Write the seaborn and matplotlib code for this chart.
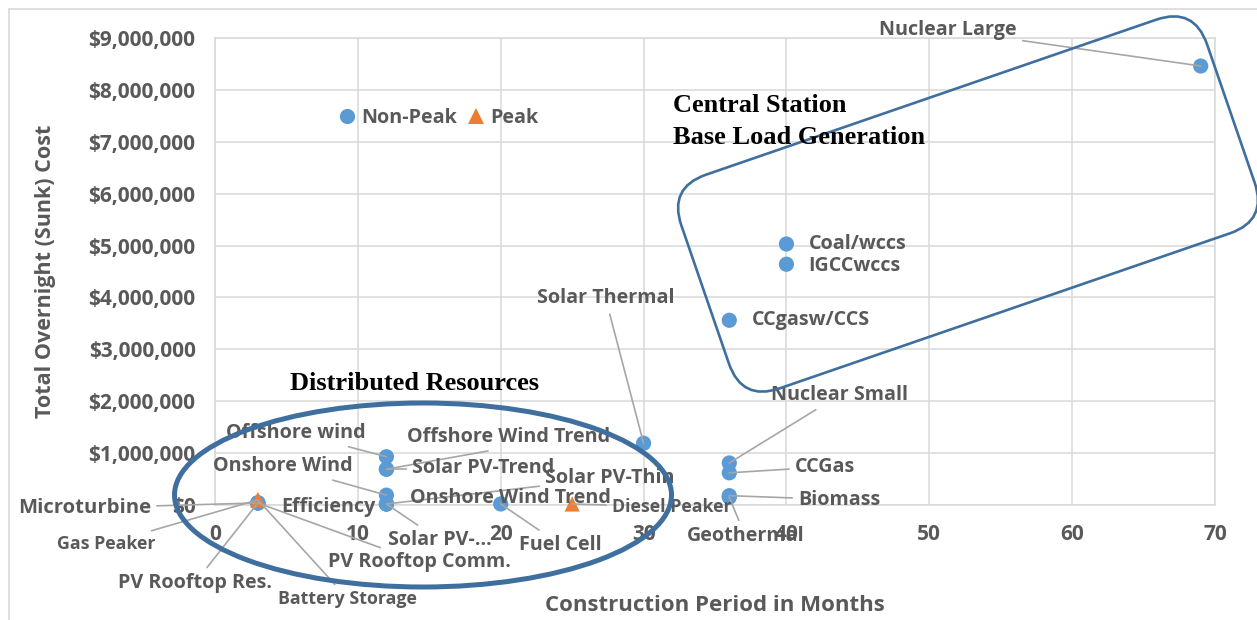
import numpy as np
import pandas as pd
import matplotlib
matplotlib.use('Agg')
import matplotlib.pyplot as plt
import matplotlib.transforms as mtransforms
from matplotlib.patches import Ellipse, FancyBboxPatch
from matplotlib.ticker import FuncFormatter
import seaborn as sns

# data
names = ["Nuclear Large", "Coal/wccs", "IGCCwccs", "CCgasw/CCS", "Solar Thermal",
         "Nuclear Small", "CCGas", "Biomass", "Geothermal", "Diesel Peaker",
         "Fuel Cell", "Solar PV-Thin", "Onshore Wind Trend", "Solar PV-\u2026",
         "Onshore Wind", "Offshore wind", "Offshore Wind Trend", "Solar PV-Trend",
         "Efficiency", "Microturbine", "Gas Peaker", "PV Rooftop Res.",
         "PV Rooftop Comm.", "Battery Storage"]
months = [69, 40, 40, 36, 30, 36, 36, 36, 36, 25, 20, 12, 12, 12, 12, 12, 12, 12,
          3, 3, 3, 3, 3, 3]
costs = [8460000, 5030000, 4640000, 3560000, 1190000, 810000, 620000, 180000,
         150000, 20000, 20000, 20000, 20000, 20000, 190000, 930000, 690000, 690000,
         40000, 40000, 100000, 40000, 40000, 100000]
kinds = ["Non-Peak"] * 24
for i in (9, 20, 23):
    kinds[i] = "Peak"

x_ticks = [0, 10, 20, 30, 40, 50, 60, 70]
y_ticks = [0, 1e6, 2e6, 3e6, 4e6, 5e6, 6e6, 7e6, 8e6, 9e6]

# label placement: offset in pixels from the point (y down), align, size, leader line
LB, SM = 14.2, 12.8
label_pos = {
    "Nuclear Large": (-184, -36, 'right', LB, True),
    "Coal/wccs": (22, 0, 'left', LB, False),
    "IGCCwccs": (22, 2, 'left', LB, False),
    "CCgasw/CCS": (23, 0, 'left', LB, False),
    "Solar Thermal": (-38, -145, 'center', LB, True),
    "Nuclear Small": (42, -68, 'left', LB, True),
    "CCGas": (66, -6, 'left', LB, True),
    "Biomass": (69, 4, 'left', LB, True),
    "Geothermal": (16, 39, 'center', LB, True),
    "Diesel Peaker": (40, 3, 'left', SM, True),
    "Fuel Cell": (60, 41, 'center', LB, True),
    "Solar PV-Thin": (159, -26, 'left', LB, True),
    "Onshore Wind Trend": (24, -6, 'left', LB, False),
    "Solar PV-\u2026": (53, 36, 'center', LB, True),
    "Onshore Wind": (-34, -29, 'right', LB, True),
    "Offshore wind": (-21, -24, 'right', LB, True),
    "Offshore Wind Trend": (21, -32, 'left', LB, True),
    "Solar PV-Trend": (26, -1, 'left', LB, True),
    "Efficiency": (23, 4, 'left', LB, False),
    "Microturbine": (-107, 5, 'right', 14.6, True),
    "Gas Peaker": (-102, 44, 'right', SM, True),
    "PV Rooftop Res.": (-63, 80, 'center', LB, True),
    "PV Rooftop Comm.": (70, 59, 'left', LB, True),
    "Battery Storage": (90, 99, 'center', SM, True),
}
# leaders that leave the text from the bottom centre
bottom_leaders = {"Offshore Wind Trend"}

GRAY = '#595959'
GRID = '#D9D9D9'

sns.set_theme(style='white')
plt.rcParams['font.family'] = ['Open Sans', 'DejaVu Sans']
plt.rcParams['font.weight'] = 'bold'

W, H = 1257, 620
fig = plt.figure(figsize=(W / 100, H / 100), dpi=100)
ax = fig.add_axes([215 / W, 1 - 505 / H, 1000 / W, 467 / H])

df = pd.DataFrame({'name': names, 'months': months, 'cost': costs, 'type': kinds})
df = df.sort_values('type', kind='stable')

sns.scatterplot(data=df, x='months', y='cost', hue='type', style='type',
                hue_order=['Non-Peak', 'Peak'], style_order=['Non-Peak', 'Peak'],
                markers={'Non-Peak': 'o', 'Peak': '^'},
                palette={'Non-Peak': '#5B9BD5', 'Peak': '#ED7D31'},
                s=120, linewidth=0, ax=ax, zorder=3, clip_on=False)

ax.set_xlim(0, 70)
ax.set_ylim(0, 9e6)
ax.set_xticks(x_ticks)
ax.set_yticks(y_ticks)
ax.yaxis.set_major_formatter(FuncFormatter(lambda v, p: f"${v:,.0f}"))
ax.grid(True, color=GRID, lw=1.1)
ax.set_axisbelow(True)
for sp in ax.spines.values():
    sp.set_color(GRID)
    sp.set_linewidth(1.1)
ax.tick_params(length=0, labelsize=15, labelcolor=GRAY)
ax.tick_params(axis='x', pad=14)
ax.tick_params(axis='y', pad=14)
ax.set_xlabel('Construction Period in Months', fontsize=16, color=GRAY,
              fontweight='bold', labelpad=36)
ax.set_ylabel('Total Overnight (Sunk) Cost', fontsize=15.5, color=GRAY,
              fontweight='bold', labelpad=23)

sns.move_legend(ax, 'center left', bbox_to_anchor=(0.116, 0.829), ncol=2,
                frameon=False, title=None, fontsize=14.2, handlelength=0.8,
                handletextpad=0.32, columnspacing=0.57, borderaxespad=0)
for t in ax.get_legend().get_texts():
    t.set_color(GRAY)
    t.set_fontweight('bold')

# data labels with leader lines
for _, row in df.iterrows():
    dx, dy, ha, size, leader = label_pos[row['name']]
    props = None
    if leader:
        props = dict(arrowstyle='-', color='#A6A6A6', lw=1.2, shrinkA=2, shrinkB=0)
        if row['name'] in bottom_leaders:
            props['relpos'] = (0.5, 0.0)
    ax.annotate(row['name'], (row['months'], row['cost']), xytext=(dx, -dy),
                textcoords='offset pixels', ha=ha, va='center', fontsize=size,
                color=GRAY, fontweight='bold', arrowprops=props,
                annotation_clip=False, zorder=4)

# overlay in pixel coordinates for the hand-drawn shapes
ov = fig.add_axes([0, 0, 1, 1], zorder=5)
ov.set_xlim(0, W)
ov.set_ylim(H, 0)
ov.axis('off')
ov.patch.set_alpha(0)

ov.plot([9, 9], [H, 9], color=GRID, lw=1.2)
ov.plot([9, W], [9, 9], color=GRID, lw=1.2)

SHAPE = '#3E6F9E'
ov.add_patch(Ellipse((423, 495), 497, 184, fill=False, ec=SHAPE, lw=3.6))

cx, cy, a, b, r = 968, 204, 476, 146, 40
box = FancyBboxPatch((cx - a / 2, cy - b / 2), a, b, boxstyle=f'round,pad={r}',
                     fill=False, ec=SHAPE, lw=1.9)
box.set_transform(mtransforms.Affine2D().rotate_deg_around(cx, cy, -19) + ov.transData)
ov.add_patch(box)

serif = dict(family=['Liberation Serif', 'DejaVu Serif'], fontweight='bold',
             fontsize=19, color='black', va='center', ha='left')
ov.text(673, 106, 'Central Station', **serif)
ov.text(673, 137, 'Base Load Generation', **serif)
ov.text(290, 383, 'Distributed Resources', **serif)

fig.savefig('out.png', dpi=100)
